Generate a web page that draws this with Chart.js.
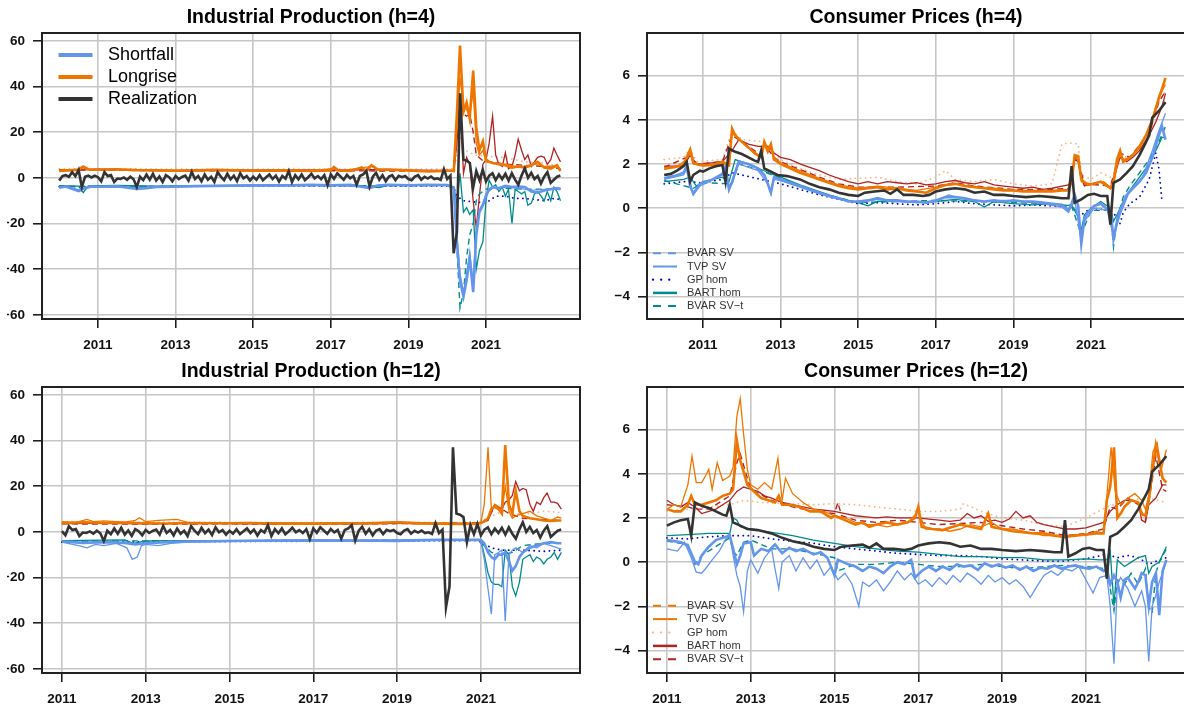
<!DOCTYPE html>
<html>
<head>
<meta charset="utf-8">
<script src="https://cdn.jsdelivr.net/npm/chart.js@4.4.1/dist/chart.umd.min.js"></script>
<style>
  html, body { margin: 0; padding: 0; background: #fff; width: 1184px; height: 708px; overflow: hidden; }
  #clip { position: absolute; left: 7px; top: 0; width: 1177px; height: 708px; overflow: hidden; }
  canvas { position: absolute; }
  #ip4 { left: -27px; top: 0; }
  #cpi4 { left: 578px; top: 0; }
  #ip12 { left: -27px; top: 354px; }
  #cpi12 { left: 578px; top: 354px; }
</style>
</head>
<body>
<div id="clip">
  <canvas id="ip4" width="662" height="354"></canvas>
  <canvas id="cpi4" width="662" height="354"></canvas>
  <canvas id="ip12" width="662" height="354"></canvas>
  <canvas id="cpi12" width="662" height="354"></canvas>
</div>
<script>
// ---- tick labels ----
const yearTicks = [2011, 2013, 2015, 2017, 2019, 2021];
const ipTicks = [-60, -40, -20, 0, 20, 40, 60];
const cpiTicks = [-4, -2, 0, 2, 4, 6];

// ---- realizations ----
// industrial production, monthly from Jan 2010
const ipMonthStart = 2010;
const ipRealization = [
  -1.2, 0.8, 1.2, 0.5, 2.5, 0.8, 3.5, -4.0, 0.5, 1.0, 0.2, 1.0,
  0.3, -1.5, 2.5, 0.8, 1.2, -1.8, -0.3, -0.5, 0.2, -0.8, 0.5, -0.6,
  -4.0, 0.5, -1.0, 1.5, -0.8, 1.8, -1.2, 0.6, -1.8, 1.2, 0.3, -1.5,
  0.8, -0.5, 0.4, 1.0, -1.2, 2.6, -0.5, 0.8, -1.5, 1.5, -0.8, 0.5,
  -1.8, 2.5, 0.5, -1.0, 1.8, -0.6, 1.0, -1.4, 2.0, -0.2, 0.8, -1.2,
  0.5, -0.8, 1.2, -1.0, 0.3, 1.5, -0.5, 1.0, -1.6, 0.8, -0.3, 3.0,
  -1.8, 1.2, -0.6, 1.5, -1.0, 0.3, 1.8, -0.2, 0.8, -0.5, 1.2, -3.2,
  1.5, -0.4, 2.0, 0.6, -0.8, 1.3, -0.2, 0.8, -3.0, 0.8, 1.5, 3.0,
  -3.8, 0.5, 2.2, -0.8, 1.2, -1.5, 0.6, 1.2, -1.0, 0.9, 0.3, 0.8,
  -0.5, -1.0, 0.6, 1.2, -0.8, 0.5, -0.3, 0.6, -0.5, -0.2, -0.9, 3.8,
  -0.5, 1.0, -33, -24, 37, 8, 7.5, 6.5, -4.5, 3.0, -1.0, 3.5,
  -1.5, 1.0, 2.0, -1.0, 1.5, -0.5, 1.8, -1.2, 2.0, -0.8, -3.0, 1.0,
  4.2, 0.0, 2.2, -0.5, 0.8, -2.5, 0.5, 2.5, -2.2, -0.8, 0.5, 1.0
];
// consumer prices, [date, value]
const cpiRealization = [[2010.0,1.5],[2010.17,1.55],[2010.33,1.7],[2010.5,1.9],[2010.58,2.1],[2010.67,1.2],[2010.75,1.5],[2010.92,1.7],[2011.0,1.65],[2011.17,1.8],[2011.33,1.9],[2011.5,1.95],[2011.58,1.2],[2011.67,2.7],[2011.83,2.55],[2012.0,2.45],[2012.17,2.3],[2012.33,2.15],[2012.42,2.1],[2012.5,2.6],[2012.58,1.8],[2012.75,1.65],[2012.92,1.5],[2013.17,1.45],[2013.5,1.3],[2013.75,1.1],[2014.0,0.95],[2014.25,0.85],[2014.5,0.7],[2014.75,0.6],[2015.0,0.55],[2015.17,0.7],[2015.42,0.75],[2015.67,0.8],[2015.83,0.65],[2016.0,0.85],[2016.17,0.6],[2016.42,0.6],[2016.67,0.55],[2016.83,0.6],[2017.0,0.75],[2017.25,0.85],[2017.5,0.9],[2017.75,0.85],[2018.0,0.7],[2018.25,0.75],[2018.5,0.6],[2018.75,0.6],[2019.0,0.55],[2019.33,0.5],[2019.67,0.55],[2020.0,0.5],[2020.25,0.45],[2020.42,0.45],[2020.5,1.9],[2020.58,0.25],[2020.75,0.4],[2020.92,0.6],[2021.08,0.65],[2021.25,0.55],[2021.42,0.55],[2021.5,-0.75],[2021.58,1.15],[2021.75,1.3],[2021.92,1.6],[2022.08,1.9],[2022.25,2.4],[2022.42,3.0],[2022.5,3.3],[2022.58,4.1],[2022.75,4.4],[2022.92,4.8]];

// ---- Industrial Production (h=4) ----
const ip4TvpLong = [[2010.0,3.0],[2010.25,3.3],[2010.5,3.6],[2010.62,5.0],[2010.75,3.8],[2011.0,3.6],[2011.5,3.8],[2012.0,3.4],[2012.5,3.3],[2013.0,3.1],[2013.5,3.2],[2014.0,3.5],[2014.5,3.3],[2015.0,3.1],[2015.5,3.2],[2016.0,3.3],[2016.5,3.0],[2017.0,3.3],[2017.08,4.8],[2017.2,3.2],[2017.5,3.0],[2017.8,4.6],[2017.9,3.0],[2018.05,5.6],[2018.2,3.8],[2018.5,3.6],[2019.0,3.3],[2019.5,2.8],[2019.9,3.0],[2020.08,3.2],[2020.17,3.0],[2020.25,28],[2020.33,58],[2020.42,29],[2020.5,33],[2020.58,26],[2020.67,47],[2020.75,22],[2020.83,12],[2020.92,16],[2021.0,8],[2021.08,7],[2021.17,6.5],[2021.33,6],[2021.5,5.5],[2021.67,4.5],[2021.83,5],[2022.0,4.5],[2022.17,5.5],[2022.33,7],[2022.5,4.5],[2022.67,4],[2022.83,5.5],[2022.92,3]];
const ip4BvarLong = [[2010.0,3.4],[2010.5,3.7],[2010.62,4.4],[2010.75,3.6],[2011.5,3.5],[2012.5,3.2],[2013.5,3.3],[2014.5,3.4],[2015.5,3.0],[2016.5,3.2],[2017.08,4.2],[2017.25,3.1],[2018.05,5.0],[2018.25,3.5],[2019.0,3.2],[2020.0,3.0],[2020.17,3.1],[2020.25,22],[2020.33,44],[2020.42,31],[2020.5,30],[2020.58,27],[2020.67,38],[2020.75,15],[2020.83,10],[2020.92,12],[2021.0,7],[2021.25,6.5],[2021.5,6],[2021.75,5],[2022.0,5],[2022.25,6],[2022.5,5],[2022.75,5.2],[2022.92,4]];
const ip4GpLong = [[2010.0,4.0],[2012,3.9],[2014,3.8],[2016,3.8],[2018,3.9],[2020.0,3.8],[2020.17,4],[2020.25,10],[2020.33,18],[2020.42,13],[2020.58,11],[2020.75,10],[2021.0,9.5],[2021.5,9],[2022.0,7],[2022.5,6.5],[2022.92,5]];
const ip4BartLong = [[2010.0,3.6],[2010.5,3.4],[2011.0,3.8],[2012.0,3.5],[2013.0,3.3],[2014.0,3.6],[2015.0,3.4],[2016.0,3.5],[2017.0,3.4],[2018.0,3.6],[2019.0,3.4],[2020.0,3.3],[2020.17,3],[2020.25,15],[2020.33,35],[2020.42,2],[2020.5,9],[2020.58,6],[2020.67,-10],[2020.75,-22],[2020.83,-8],[2020.92,6],[2021.0,8],[2021.08,15],[2021.17,27],[2021.25,10],[2021.33,6],[2021.42,5],[2021.5,11],[2021.58,4],[2021.67,5],[2021.75,10],[2021.83,17],[2021.92,12],[2022.0,8],[2022.08,10],[2022.17,5],[2022.25,7],[2022.33,9],[2022.42,9.5],[2022.5,9],[2022.58,6],[2022.67,8],[2022.75,13],[2022.83,10],[2022.92,7]];
const ip4SvtLong = [[2010.0,3.6],[2011,3.4],[2013,3.1],[2015,3.2],[2017,3.1],[2019,3.0],[2020.17,3.2],[2020.25,20],[2020.33,36],[2020.42,28],[2020.5,27],[2020.58,28],[2020.67,20],[2020.75,10],[2020.92,7.5],[2021.5,6],[2022.0,5.5],[2022.5,5],[2022.92,4]];
const ip4TvpShort = [[2010.0,-4.3],[2010.17,-3.8],[2010.33,-4.8],[2010.5,-5.8],[2010.67,-4.5],[2010.83,-3.8],[2011.0,-3.9],[2011.5,-3.7],[2012.0,-4.8],[2012.25,-4.5],[2012.5,-4.0],[2013.0,-3.9],[2013.5,-3.6],[2014.0,-3.5],[2014.5,-3.4],[2015.0,-3.3],[2015.5,-3.2],[2016.0,-3.3],[2016.5,-3.0],[2017.0,-3.2],[2017.5,-3.0],[2018.0,-4.5],[2018.2,-3.3],[2018.5,-3.0],[2019.0,-3.2],[2019.5,-3.0],[2020.0,-3.1],[2020.17,-4.5],[2020.25,-28],[2020.33,-45],[2020.42,-52],[2020.5,-45],[2020.58,-35],[2020.67,-50],[2020.75,-25],[2020.83,-15],[2020.92,-12],[2021.0,-8],[2021.08,-5],[2021.17,-4],[2021.33,-4.5],[2021.5,-3.5],[2021.67,-4],[2021.83,-3.8],[2022.0,-4],[2022.17,-6],[2022.33,-6.5],[2022.5,-5.5],[2022.67,-5],[2022.83,-4.5],[2022.92,-5]];
const ip4BvarShort = [[2010.0,-4.0],[2010.33,-4.3],[2010.5,-5.2],[2010.67,-4.2],[2011.0,-3.8],[2012.0,-4.3],[2013.0,-3.8],[2014.0,-3.5],[2015.0,-3.4],[2016.0,-3.4],[2017.0,-3.3],[2018.0,-4.0],[2018.25,-3.4],[2019.0,-3.3],[2020.0,-3.2],[2020.17,-4],[2020.25,-25],[2020.33,-42],[2020.42,-50],[2020.5,-42],[2020.58,-33],[2020.67,-46],[2020.75,-22],[2020.83,-14],[2020.92,-11],[2021.0,-7],[2021.17,-4.5],[2021.5,-4],[2021.83,-4.5],[2022.17,-5.5],[2022.5,-5],[2022.75,-4.5],[2022.92,-4.5]];
const ip4GpShort = [[2010.0,-3.8],[2012,-3.9],[2014,-3.6],[2016,-3.5],[2018,-3.6],[2020.0,-3.5],[2020.17,-4],[2020.25,-8],[2020.42,-10],[2020.67,-10.5],[2021.0,-11],[2021.25,-8],[2021.5,-8],[2021.75,-9],[2022.0,-9],[2022.25,-9.5],[2022.5,-10],[2022.75,-9],[2022.92,-9.5]];
const ip4BartShort = [[2010.0,-3.4],[2010.5,-3.6],[2010.62,-6.5],[2010.75,-3.5],[2011.5,-3.3],[2012.5,-3.6],[2013.5,-3.5],[2014.5,-3.3],[2015.5,-3.2],[2016.5,-3.1],[2017.5,-3.0],[2018.25,-4.2],[2018.5,-3.2],[2019.5,-3.0],[2020.0,-3.0],[2020.17,-4],[2020.25,-11],[2020.33,2],[2020.42,-15],[2020.5,-13],[2020.58,-16],[2020.67,-14],[2020.75,-40],[2020.83,-32],[2020.92,-28],[2021.0,-10],[2021.08,-1],[2021.17,-4],[2021.25,-3],[2021.33,-6],[2021.42,-4],[2021.5,-8],[2021.58,-5],[2021.67,-20],[2021.75,-5],[2021.83,-6],[2021.92,-7],[2022.0,-6],[2022.08,-12],[2022.17,-11],[2022.25,-7],[2022.33,-6],[2022.42,-8],[2022.5,-10],[2022.58,-6],[2022.67,-10],[2022.75,-4],[2022.83,-6],[2022.92,-10]];
const ip4SvtShort = [[2010.0,-3.7],[2012,-3.8],[2014,-3.5],[2016,-3.4],[2018,-3.5],[2020.0,-3.4],[2020.17,-4],[2020.25,-30],[2020.33,-57],[2020.42,-50],[2020.5,-35],[2020.58,-25],[2020.67,-20],[2020.75,-10],[2020.83,-7],[2021.0,-5],[2021.5,-4.5],[2022.0,-5],[2022.92,-5]];

// ---- Industrial Production (h=12) ----
const ip12TvpLong = [[2011.0,3.8],[2011.5,4.2],[2012.0,3.9],[2012.5,4.0],[2013.0,3.8],[2013.5,3.7],[2014.0,3.9],[2014.5,3.8],[2015.0,3.8],[2015.5,3.9],[2016.0,3.7],[2016.5,3.6],[2017.0,3.6],[2017.5,3.8],[2018.0,3.7],[2018.5,3.8],[2019.0,4.2],[2019.5,3.7],[2020.0,3.6],[2020.5,3.5],[2020.92,3.5],[2021.0,4],[2021.08,4.5],[2021.17,6],[2021.25,10],[2021.33,11],[2021.42,10],[2021.5,8],[2021.58,38],[2021.67,12],[2021.75,8],[2021.83,18],[2021.92,9],[2022.0,7],[2022.17,6],[2022.33,5.5],[2022.5,5],[2022.67,4.8],[2022.83,5],[2022.92,5]];
const ip12BvarLong = [[2011.0,4.5],[2011.33,4.2],[2011.6,5.5],[2011.75,4.5],[2012.0,4.8],[2012.5,4.3],[2012.75,5.0],[2012.85,6.2],[2013.0,4.5],[2013.3,5.0],[2013.75,5.5],[2014.0,4.2],[2015,4.0],[2016,4.0],[2017,3.8],[2018,3.9],[2019,4.4],[2020,3.8],[2020.92,3.6],[2021.0,4],[2021.08,12],[2021.17,37],[2021.25,10],[2021.33,12],[2021.42,11],[2021.5,8],[2021.58,20],[2021.67,9],[2021.75,6],[2021.83,7],[2022.0,8],[2022.17,9],[2022.33,7],[2022.5,6],[2022.67,5],[2022.83,6.5],[2022.92,6]];
const ip12GpLong = [[2011,4.5],[2013,4.3],[2015,4.2],[2017,4.0],[2019,4.2],[2020.92,4.0],[2021.17,6],[2021.5,9],[2021.83,8],[2022.17,8],[2022.5,9],[2022.92,8.5]];
const ip12BartLong = [[2011,3.6],[2012,3.8],[2013,3.5],[2014,3.7],[2015,3.6],[2016,3.5],[2017,3.6],[2018,3.5],[2019,3.7],[2020,3.5],[2020.92,3.6],[2021.0,4],[2021.17,5],[2021.33,12],[2021.42,11],[2021.5,10],[2021.58,13],[2021.67,14],[2021.75,16],[2021.83,22],[2021.92,18],[2022.0,19],[2022.08,18.5],[2022.17,12],[2022.25,9],[2022.33,13],[2022.42,12],[2022.5,15],[2022.58,17],[2022.67,13],[2022.75,13],[2022.83,12.5],[2022.92,10]];
const ip12SvtLong = [[2011,3.5],[2013,3.4],[2015,3.5],[2017,3.4],[2019,3.6],[2021.0,4],[2021.17,6],[2021.33,11],[2021.5,10],[2021.67,8],[2021.83,7],[2022,6],[2022.5,5.5],[2022.92,5]];
const ip12TvpShort = [[2011.0,-4.2],[2011.25,-4.5],[2011.5,-4.8],[2012.0,-4.5],[2012.5,-4.8],[2012.75,-5.5],[2013.0,-5],[2013.5,-4.5],[2014,-4.2],[2015,-4.0],[2016,-3.8],[2017,-3.7],[2018,-3.8],[2019,-3.8],[2020,-3.5],[2020.92,-3.5],[2021.0,-3.6],[2021.08,-5],[2021.17,-9],[2021.25,-11],[2021.33,-12],[2021.42,-10],[2021.5,-10],[2021.58,-9],[2021.67,-13],[2021.75,-17],[2021.83,-15],[2021.92,-11],[2022.0,-9],[2022.17,-7],[2022.33,-6],[2022.5,-5],[2022.67,-4.5],[2022.83,-5],[2022.92,-5]];
const ip12BvarShort = [[2011.0,-4.5],[2011.4,-6],[2011.6,-7],[2011.8,-5.5],[2012.0,-6],[2012.3,-5],[2012.55,-7],[2012.68,-12],[2012.8,-11],[2012.9,-6],[2013.0,-5.5],[2013.3,-6],[2013.6,-5],[2014,-4.5],[2015,-4.2],[2016,-4.0],[2017,-4.1],[2018,-4.0],[2019,-4.3],[2020,-3.6],[2020.92,-3.6],[2021.0,-4],[2021.08,-12],[2021.17,-25],[2021.25,-36],[2021.33,-10],[2021.42,-9],[2021.5,-8],[2021.58,-39],[2021.67,-10],[2021.75,-8],[2021.83,-7],[2022,-9],[2022.17,-6],[2022.33,-7],[2022.5,-5],[2022.67,-6],[2022.83,-7],[2022.92,-7.5]];
const ip12GpShort = [[2011,-4.5],[2015,-4.2],[2020.92,-3.8],[2021.25,-7],[2021.5,-8],[2021.75,-8],[2022.0,-8],[2022.5,-8.5],[2022.92,-8]];
const ip12BartShort = [[2011,-3.8],[2012.5,-3.5],[2012.7,-5],[2013,-4],[2014,-3.8],[2019,-3.7],[2020.92,-3.6],[2021.0,-4],[2021.08,-10],[2021.17,-18],[2021.25,-22],[2021.33,-23],[2021.42,-23],[2021.5,-24],[2021.58,-8],[2021.67,-10],[2021.75,-24],[2021.83,-28],[2021.92,-22],[2022.0,-12],[2022.08,-11],[2022.17,-10],[2022.25,-13],[2022.33,-11],[2022.42,-12],[2022.5,-14],[2022.58,-12],[2022.67,-11],[2022.75,-9],[2022.83,-12],[2022.92,-9]];
const ip12SvtShort = [[2011,-4],[2020.92,-3.6],[2021.08,-6],[2021.25,-9],[2021.5,-10],[2021.75,-9],[2022,-6],[2022.5,-5],[2022.92,-5]];

// ---- Consumer Prices (h=4) ----
const cpi4TvpLong = [[2010.0,1.8],[2010.25,1.85],[2010.5,1.95],[2010.58,2.3],[2010.67,2.65],[2010.75,2.05],[2010.92,1.95],[2011.25,1.95],[2011.5,2.1],[2011.67,1.95],[2011.75,3.6],[2011.83,3.3],[2012.0,3.0],[2012.17,2.75],[2012.33,2.5],[2012.5,2.3],[2012.58,3.0],[2012.67,2.6],[2012.75,2.9],[2012.83,2.2],[2013.0,2.0],[2013.25,1.8],[2013.5,1.6],[2013.75,1.45],[2014.0,1.3],[2014.25,1.15],[2014.5,1.0],[2014.75,0.9],[2015.0,0.85],[2015.25,0.9],[2015.5,0.95],[2015.75,0.85],[2016.0,0.9],[2016.25,0.8],[2016.5,0.75],[2016.75,0.7],[2017.0,0.9],[2017.25,1.05],[2017.5,1.1],[2017.75,1.0],[2018.0,0.95],[2018.25,0.9],[2018.5,0.85],[2018.75,0.8],[2019.0,0.8],[2019.25,0.75],[2019.5,0.75],[2019.75,0.75],[2020.0,0.75],[2020.25,0.8],[2020.42,0.8],[2020.5,1.2],[2020.58,2.4],[2020.67,2.35],[2020.75,1.3],[2020.92,1.05],[2021.08,1.1],[2021.25,1.2],[2021.42,1.0],[2021.5,0.9],[2021.58,1.2],[2021.67,2.2],[2021.75,2.6],[2021.83,2.1],[2021.92,2.2],[2022.08,2.4],[2022.25,2.8],[2022.42,3.3],[2022.58,4.0],[2022.67,4.5],[2022.75,5.0],[2022.83,5.4],[2022.92,5.9]];
const cpi4BvarLong = [[2010.0,1.75],[2010.33,1.9],[2010.58,2.2],[2010.67,2.5],[2010.75,2.0],[2011.0,1.9],[2011.33,1.95],[2011.58,2.0],[2011.67,1.9],[2011.75,3.4],[2011.92,3.1],[2012.08,2.9],[2012.33,2.45],[2012.5,2.3],[2012.58,2.9],[2012.67,2.5],[2012.75,2.8],[2012.83,2.3],[2013.0,2.05],[2013.5,1.7],[2014.0,1.35],[2014.5,1.05],[2015.0,0.9],[2015.5,1.0],[2016.0,0.9],[2016.5,0.8],[2017.0,0.95],[2017.5,1.1],[2018.0,0.95],[2018.5,0.9],[2019.0,0.8],[2019.5,0.8],[2020.0,0.8],[2020.42,0.85],[2020.5,1.3],[2020.58,2.4],[2020.67,2.2],[2020.75,1.2],[2021.0,1.1],[2021.33,1.2],[2021.5,0.95],[2021.58,1.0],[2021.67,1.9],[2021.75,2.5],[2021.83,2.2],[2022.0,2.3],[2022.25,2.7],[2022.5,3.5],[2022.67,4.6],[2022.83,5.3],[2022.92,5.6]];
const cpi4GpLong = [[2010.0,2.2],[2010.5,2.3],[2010.67,2.7],[2010.83,2.1],[2011.5,2.2],[2011.75,3.5],[2012.0,3.1],[2012.58,3.0],[2013.0,2.2],[2013.5,1.8],[2014.0,1.5],[2014.5,1.3],[2015.0,1.35],[2015.5,1.4],[2016.0,1.2],[2016.5,1.1],[2017.0,1.4],[2017.25,1.7],[2017.5,1.3],[2018.0,1.2],[2018.5,1.3],[2019.0,1.1],[2019.5,1.0],[2020.0,1.1],[2020.25,2.9],[2020.5,2.95],[2020.67,2.9],[2020.75,1.5],[2021.0,1.3],[2021.25,1.6],[2021.5,1.4],[2021.58,1.1],[2021.75,2.5],[2022.0,2.2],[2022.5,3.2],[2022.75,4.8],[2022.92,5.3]];
const cpi4BartLong = [[2010.0,1.9],[2010.5,1.9],[2010.67,2.4],[2010.83,2.0],[2011.0,2.0],[2011.5,2.1],[2011.75,2.6],[2011.92,3.1],[2012.17,2.9],[2012.42,2.8],[2012.67,2.8],[2012.83,2.5],[2013.0,2.3],[2013.25,2.2],[2013.5,2.0],[2013.75,1.85],[2014.0,1.7],[2014.25,1.5],[2014.5,1.35],[2014.75,1.2],[2015.0,1.1],[2015.25,1.2],[2015.5,1.1],[2015.75,1.2],[2016.0,1.15],[2016.25,1.1],[2016.5,1.15],[2016.75,1.05],[2017.0,1.1],[2017.25,1.2],[2017.5,1.25],[2017.75,1.15],[2018.0,1.1],[2018.25,1.2],[2018.5,1.05],[2018.75,1.0],[2019.0,0.95],[2019.25,0.9],[2019.5,0.95],[2019.75,0.85],[2020.0,0.9],[2020.25,1.0],[2020.42,1.05],[2020.5,1.3],[2020.58,2.2],[2020.67,2.1],[2020.75,1.4],[2020.83,1.0],[2021.0,1.1],[2021.25,1.2],[2021.5,0.9],[2021.58,1.3],[2021.75,2.3],[2021.92,2.1],[2022.08,2.3],[2022.25,2.6],[2022.5,3.3],[2022.67,3.9],[2022.83,4.6],[2022.92,5.2]];
const cpi4SvtLong = [[2010.0,1.85],[2010.58,2.3],[2010.67,2.5],[2010.83,2.0],[2011.5,2.1],[2011.75,3.3],[2012.0,3.0],[2012.5,2.4],[2012.58,2.9],[2012.83,2.3],[2013.0,2.1],[2013.5,1.75],[2014.0,1.4],[2014.5,1.1],[2015.0,0.95],[2016.0,0.95],[2017.0,1.0],[2017.5,1.15],[2018.0,1.0],[2019.0,0.85],[2020.0,0.85],[2020.42,0.9],[2020.5,1.3],[2020.58,2.3],[2020.67,2.1],[2020.83,1.1],[2021.5,1.0],[2021.67,2.0],[2021.75,2.5],[2022.0,2.3],[2022.5,3.4],[2022.75,4.8],[2022.92,5.3]];
const cpi4TvpShort = [[2010.0,1.35],[2010.25,1.45],[2010.5,1.6],[2010.58,1.9],[2010.67,1.0],[2010.75,0.65],[2010.92,1.1],[2011.25,1.3],[2011.5,1.55],[2011.58,1.9],[2011.67,0.85],[2011.75,1.2],[2011.92,2.1],[2012.17,2.0],[2012.42,1.8],[2012.58,1.5],[2012.67,1.1],[2012.75,0.7],[2012.83,1.4],[2013.0,1.3],[2013.25,1.15],[2013.5,1.0],[2013.75,0.85],[2014.0,0.7],[2014.25,0.55],[2014.5,0.45],[2014.75,0.3],[2015.0,0.3],[2015.25,0.35],[2015.5,0.45],[2015.75,0.35],[2016.0,0.35],[2016.25,0.3],[2016.5,0.3],[2016.75,0.25],[2017.0,0.35],[2017.25,0.5],[2017.5,0.5],[2017.75,0.45],[2018.0,0.35],[2018.25,0.3],[2018.5,0.35],[2018.75,0.3],[2019.0,0.35],[2019.25,0.3],[2019.5,0.3],[2019.75,0.25],[2020.0,0.2],[2020.25,0.15],[2020.42,-0.1],[2020.5,0.2],[2020.58,0.6],[2020.67,0.1],[2020.75,-1.6],[2020.83,-0.5],[2020.92,-0.2],[2021.08,0.1],[2021.25,0.2],[2021.42,-0.05],[2021.5,0.0],[2021.58,-1.4],[2021.67,-0.6],[2021.75,-0.1],[2021.92,0.6],[2022.08,0.9],[2022.25,1.2],[2022.42,1.6],[2022.58,2.3],[2022.75,3.3],[2022.83,3.7],[2022.92,3.1]];
const cpi4BvarShort = [[2010.0,1.3],[2010.5,1.5],[2010.58,1.8],[2010.75,0.6],[2010.92,1.0],[2011.5,1.5],[2011.58,1.8],[2011.67,0.8],[2011.92,2.0],[2012.42,1.7],[2012.67,1.1],[2012.75,0.65],[2012.83,1.3],[2013.0,1.25],[2013.5,0.95],[2014.0,0.65],[2014.5,0.4],[2015.0,0.25],[2015.5,0.4],[2016.0,0.3],[2016.5,0.25],[2017.0,0.3],[2017.33,0.6],[2017.75,0.4],[2018.25,0.3],[2018.75,0.35],[2019.25,0.3],[2019.75,0.2],[2020.25,0.05],[2020.42,-0.2],[2020.58,0.4],[2020.75,-1.5],[2020.83,-0.6],[2021.08,0.0],[2021.42,-0.1],[2021.58,-1.3],[2021.75,-0.3],[2022.0,0.8],[2022.33,1.4],[2022.58,2.6],[2022.75,3.5],[2022.92,4.3]];
const cpi4GpShort = [[2010.0,1.1],[2010.5,1.2],[2011.0,1.15],[2011.5,1.3],[2011.75,1.6],[2012.0,1.5],[2012.5,1.3],[2013.0,1.1],[2013.5,0.85],[2014.0,0.6],[2014.5,0.4],[2015.0,0.2],[2015.5,0.25],[2016.0,0.2],[2016.5,0.15],[2017.0,0.2],[2017.5,0.3],[2018.0,0.2],[2018.5,0.15],[2019.0,0.1],[2019.5,0.15],[2020.0,0.1],[2020.5,0.05],[2020.75,-0.3],[2021.0,0.0],[2021.5,-0.1],[2021.67,-0.4],[2021.75,-0.7],[2021.83,-0.2],[2022.0,0.2],[2022.25,0.5],[2022.5,1.3],[2022.67,2.5],[2022.75,1.8],[2022.83,0.3]];
const cpi4BartShort = [[2010.0,1.2],[2010.5,1.3],[2010.67,1.4],[2010.83,1.0],[2011.0,1.2],[2011.5,1.4],[2011.67,1.2],[2011.83,2.2],[2012.17,2.0],[2012.5,1.75],[2012.83,1.5],[2013.0,1.4],[2013.5,1.05],[2014.0,0.75],[2014.5,0.45],[2015.0,0.25],[2015.25,0.1],[2015.5,0.3],[2016.0,0.35],[2016.5,0.25],[2017.0,0.3],[2017.5,0.4],[2018.0,0.3],[2018.25,0.05],[2018.5,0.3],[2019.0,0.2],[2019.5,0.15],[2020.0,0.2],[2020.33,0.1],[2020.5,0.15],[2020.67,-0.4],[2020.75,-1.0],[2020.83,-0.3],[2021.0,0.0],[2021.25,0.3],[2021.5,0.0],[2021.58,-0.6],[2021.67,-0.3],[2021.83,0.3],[2022.0,0.8],[2022.25,1.4],[2022.5,2.0],[2022.67,2.6],[2022.83,3.2],[2022.92,3.2]];
const cpi4SvtShort = [[2010.0,1.25],[2010.75,0.9],[2011.0,1.15],[2011.75,1.1],[2011.92,2.0],[2012.5,1.7],[2013.0,1.35],[2014.0,0.7],[2015.0,0.25],[2016.0,0.3],[2017.0,0.35],[2018.0,0.3],[2019.0,0.25],[2020.0,0.2],[2020.5,0.1],[2020.75,-1.2],[2021.0,-0.1],[2021.5,-0.1],[2021.58,-1.75],[2021.67,-0.5],[2021.83,0.5],[2022.0,1.0],[2022.5,2.2],[2022.75,3.0],[2022.92,3.7]];

// ---- Consumer Prices (h=12) ----
const cpi12TvpLong = [[2011.0,2.4],[2011.17,2.3],[2011.33,2.3],[2011.5,2.6],[2011.58,3.0],[2011.67,2.6],[2011.83,2.6],[2012.0,2.7],[2012.17,2.8],[2012.33,3.0],[2012.5,3.1],[2012.58,3.3],[2012.67,5.5],[2012.75,4.6],[2012.83,4.1],[2012.92,3.5],[2013.08,3.2],[2013.25,2.9],[2013.42,2.8],[2013.58,2.7],[2013.67,3.0],[2013.75,2.6],[2013.92,2.6],[2014.17,2.5],[2014.42,2.3],[2014.67,2.3],[2014.92,2.0],[2015.0,2.1],[2015.25,1.9],[2015.5,1.7],[2015.67,1.8],[2015.83,1.6],[2016.0,1.7],[2016.25,1.8],[2016.5,1.7],[2016.75,1.8],[2016.92,2.0],[2017.0,2.5],[2017.08,1.6],[2017.33,1.5],[2017.58,1.45],[2017.83,1.6],[2018.0,1.7],[2018.25,1.6],[2018.5,1.5],[2018.67,2.2],[2018.75,1.6],[2019.0,1.5],[2019.25,1.4],[2019.5,1.35],[2019.75,1.3],[2020.0,1.3],[2020.25,1.2],[2020.5,1.15],[2020.75,1.2],[2021.0,1.25],[2021.25,1.3],[2021.42,1.3],[2021.5,2.8],[2021.58,3.4],[2021.67,5.2],[2021.75,2.0],[2021.83,2.2],[2021.92,2.5],[2022.08,2.8],[2022.25,2.7],[2022.33,2.2],[2022.42,2.1],[2022.5,2.8],[2022.58,4.0],[2022.67,5.3],[2022.75,4.6],[2022.83,3.8],[2022.92,3.6]];
const cpi12BvarLong = [[2011.0,2.4],[2011.17,2.6],[2011.33,2.5],[2011.5,3.5],[2011.6,4.8],[2011.7,3.6],[2011.83,3.6],[2011.92,3.9],[2012.0,4.2],[2012.08,3.3],[2012.2,4.5],[2012.33,3.7],[2012.42,3.8],[2012.5,3.9],[2012.58,4.3],[2012.67,6.6],[2012.75,7.4],[2012.83,5.8],[2012.92,4.2],[2013.0,3.5],[2013.17,3.3],[2013.33,3.6],[2013.5,3.3],[2013.65,4.7],[2013.75,2.8],[2013.83,3.8],[2014.0,3.1],[2014.25,2.7],[2014.5,2.4],[2014.75,2.3],[2015.0,2.1],[2015.25,2.0],[2015.5,1.8],[2015.75,1.7],[2016.0,1.7],[2016.25,1.6],[2016.5,1.7],[2016.75,1.8],[2017.0,2.3],[2017.17,1.5],[2017.5,1.5],[2017.75,1.4],[2018.0,1.5],[2018.25,1.7],[2018.5,1.6],[2018.75,1.8],[2019.0,1.5],[2019.25,1.5],[2019.5,1.4],[2019.75,1.3],[2020.0,1.2],[2020.25,1.2],[2020.5,1.1],[2020.75,1.25],[2021.0,1.2],[2021.25,1.4],[2021.42,1.3],[2021.5,3.0],[2021.6,5.2],[2021.7,3.2],[2021.83,2.6],[2022.0,2.9],[2022.17,3.1],[2022.33,2.8],[2022.42,2.4],[2022.5,3.0],[2022.6,5.0],[2022.7,5.4],[2022.8,4.2],[2022.92,5.1]];
const cpi12GpLong = [[2011.0,2.3],[2011.5,2.4],[2012.0,2.5],[2012.5,2.6],[2012.83,2.8],[2013.25,2.7],[2014.0,2.65],[2014.5,2.6],[2015.0,2.65],[2015.5,2.6],[2016.0,2.5],[2016.5,2.4],[2017.0,2.3],[2017.5,2.3],[2018.0,2.4],[2018.08,2.65],[2018.5,2.3],[2019.0,2.0],[2019.5,1.9],[2020.0,1.7],[2020.5,1.6],[2021.0,2.0],[2021.5,2.5],[2022.0,2.8],[2022.5,2.9],[2022.92,2.7]];
const cpi12BartLong = [[2011.0,2.8],[2011.17,2.6],[2011.33,2.5],[2011.5,2.7],[2011.67,2.5],[2011.83,2.2],[2012.0,2.3],[2012.17,2.4],[2012.33,2.6],[2012.5,2.8],[2012.67,3.2],[2012.83,3.4],[2013.0,3.3],[2013.17,3.2],[2013.33,3.0],[2013.5,2.9],[2013.75,2.7],[2014.0,2.6],[2014.25,2.5],[2014.5,2.4],[2014.75,2.35],[2015.0,2.3],[2015.25,2.2],[2015.5,2.1],[2015.75,2.05],[2016.0,2.0],[2016.25,2.05],[2016.5,2.0],[2016.75,2.0],[2017.0,2.0],[2017.25,1.95],[2017.5,1.9],[2017.75,1.85],[2018.0,1.9],[2018.17,2.2],[2018.33,2.0],[2018.5,2.1],[2018.67,1.85],[2018.83,1.9],[2019.0,1.8],[2019.17,1.95],[2019.33,2.3],[2019.5,2.0],[2019.67,2.1],[2019.83,1.8],[2020.0,1.7],[2020.25,1.6],[2020.5,1.5],[2020.75,1.5],[2021.0,1.55],[2021.25,1.7],[2021.42,1.8],[2021.58,2.3],[2021.75,2.6],[2021.92,2.8],[2022.08,2.8],[2022.25,2.7],[2022.33,1.9],[2022.42,1.8],[2022.5,2.6],[2022.67,2.9],[2022.83,3.5],[2022.92,3.5]];
const cpi12SvtLong = [[2011.0,2.6],[2011.5,2.5],[2011.67,2.4],[2012.0,2.4],[2012.5,3.0],[2012.67,4.5],[2012.75,4.9],[2012.92,3.8],[2013.0,3.3],[2013.5,2.8],[2014.0,2.5],[2014.5,2.3],[2015.0,2.2],[2015.08,2.7],[2015.17,2.1],[2015.5,1.9],[2016.0,1.8],[2016.5,1.9],[2017.0,1.8],[2017.5,1.7],[2018.0,1.75],[2018.5,1.8],[2019.0,1.65],[2019.5,1.5],[2020.0,1.4],[2020.5,1.2],[2021.0,1.3],[2021.42,1.5],[2021.58,2.5],[2021.75,2.4],[2022.0,2.9],[2022.25,2.6],[2022.42,1.9],[2022.5,2.7],[2022.67,4.8],[2022.83,3.3],[2022.92,3.2]];
const cpi12TvpShort = [[2011.0,1.0],[2011.17,0.95],[2011.33,0.9],[2011.5,0.75],[2011.58,0.4],[2011.67,0.0],[2011.75,-0.1],[2011.83,0.3],[2012.0,0.7],[2012.17,1.0],[2012.33,1.1],[2012.5,1.2],[2012.58,0.6],[2012.67,-0.1],[2012.75,0.3],[2012.83,0.85],[2013.0,0.9],[2013.08,0.3],[2013.25,0.6],[2013.42,0.5],[2013.58,0.8],[2013.75,0.4],[2013.92,0.65],[2014.08,0.5],[2014.25,0.6],[2014.5,0.35],[2014.67,0.45],[2014.83,0.2],[2015.0,-0.6],[2015.08,0.1],[2015.33,-0.1],[2015.5,-0.2],[2015.67,-0.4],[2015.83,-0.2],[2016.0,-0.3],[2016.17,-0.5],[2016.33,-0.2],[2016.5,0.0],[2016.67,-0.1],[2016.83,0.1],[2016.92,-0.7],[2017.08,-0.4],[2017.25,-0.2],[2017.42,-0.4],[2017.58,-0.2],[2017.75,-0.35],[2017.92,-0.1],[2018.08,-0.2],[2018.25,-0.15],[2018.42,-0.35],[2018.58,-0.05],[2018.75,-0.2],[2018.92,-0.1],[2019.08,-0.25],[2019.25,-0.15],[2019.42,-0.35],[2019.58,-0.2],[2019.75,-0.4],[2019.92,-0.25],[2020.08,-0.3],[2020.25,-0.15],[2020.42,-0.3],[2020.58,-0.2],[2020.75,-0.15],[2020.92,-0.25],[2021.08,-0.3],[2021.25,-0.2],[2021.42,-0.4],[2021.5,-0.3],[2021.58,-1.0],[2021.67,-0.6],[2021.75,-0.9],[2021.83,-1.6],[2021.92,-0.8],[2022.0,-0.7],[2022.17,-1.2],[2022.25,-0.9],[2022.33,-0.5],[2022.42,-0.6],[2022.5,-2.0],[2022.58,-0.9],[2022.67,-0.5],[2022.75,-2.4],[2022.83,-0.4],[2022.92,0.1]];
const cpi12BvarShort = [[2011.0,0.6],[2011.25,0.5],[2011.42,0.9],[2011.58,0.2],[2011.7,-0.45],[2011.83,-0.5],[2011.92,-0.3],[2012.08,0.1],[2012.25,0.5],[2012.42,1.1],[2012.5,1.3],[2012.58,0.3],[2012.67,-0.6],[2012.75,-1.1],[2012.83,-2.25],[2012.92,-0.4],[2013.0,0.1],[2013.17,-0.5],[2013.33,0.2],[2013.5,0.6],[2013.58,-0.3],[2013.67,-1.2],[2013.75,0.0],[2013.92,0.3],[2014.08,-0.4],[2014.25,0.2],[2014.42,-0.3],[2014.58,0.1],[2014.75,-0.6],[2014.92,-0.2],[2015.08,-0.8],[2015.25,-0.5],[2015.42,-1.0],[2015.58,-2.0],[2015.67,-0.9],[2015.83,-1.1],[2016.0,-0.8],[2016.17,-1.3],[2016.33,-0.9],[2016.5,-0.4],[2016.67,-0.8],[2016.83,-0.5],[2017.0,-1.0],[2017.17,-0.8],[2017.33,-1.1],[2017.5,-0.7],[2017.67,-1.0],[2017.83,-0.6],[2018.0,-0.9],[2018.17,-0.5],[2018.33,-0.7],[2018.5,-1.0],[2018.67,-0.6],[2018.83,-0.9],[2019.0,-0.7],[2019.17,-1.0],[2019.33,-0.8],[2019.5,-1.1],[2019.67,-1.6],[2019.83,-1.1],[2020.0,-0.6],[2020.17,-0.4],[2020.33,-0.6],[2020.5,-0.3],[2020.67,-0.4],[2020.83,-0.2],[2021.0,-0.8],[2021.17,-1.4],[2021.33,-0.7],[2021.5,-0.6],[2021.58,-2.0],[2021.67,-4.6],[2021.75,-1.0],[2021.83,-0.7],[2022.0,-1.2],[2022.17,-2.0],[2022.33,-1.3],[2022.42,-2.0],[2022.5,-4.5],[2022.58,-2.0],[2022.67,-1.5],[2022.75,-0.9],[2022.83,-0.5],[2022.92,0.1]];
const cpi12GpShort = [[2011.0,1.1],[2011.5,1.05],[2012.0,1.15],[2012.5,1.2],[2013.0,1.2],[2013.5,1.05],[2014.0,0.95],[2014.5,0.85],[2015.0,0.7],[2015.5,0.6],[2016.0,0.5],[2016.5,0.4],[2017.0,0.35],[2017.5,0.3],[2018.0,0.3],[2018.5,0.25],[2019.0,0.15],[2019.5,0.1],[2020.0,0.05],[2020.5,0.05],[2021.0,0.15],[2021.5,0.35],[2021.75,0.2],[2022.0,0.3],[2022.25,0.2],[2022.5,-0.1],[2022.75,0.1],[2022.92,0.2]];
const cpi12BartShort = [[2011.0,1.2],[2011.5,1.25],[2012.0,1.3],[2012.5,1.3],[2012.58,2.0],[2012.67,1.9],[2012.75,1.6],[2013.0,1.5],[2013.5,1.35],[2014.0,1.2],[2014.5,1.0],[2015.0,0.85],[2015.5,0.7],[2016.0,0.6],[2016.5,0.5],[2017.0,0.45],[2017.5,0.35],[2018.0,0.25],[2018.5,0.25],[2019.0,0.2],[2019.5,0.2],[2020.0,0.1],[2020.5,0.1],[2021.0,0.15],[2021.33,0.1],[2021.5,0.1],[2021.58,0.5],[2021.67,-2.0],[2021.75,0.1],[2021.92,-0.2],[2022.08,0.0],[2022.25,0.2],[2022.42,0.3],[2022.5,-0.5],[2022.58,-0.2],[2022.75,0.0],[2022.92,0.7]];
const cpi12SvtShort = [[2011.0,0.95],[2011.5,0.8],[2011.67,-0.1],[2011.83,0.3],[2012.08,0.6],[2012.5,1.1],[2012.58,0.5],[2012.67,0.3],[2012.83,0.9],[2013.0,1.0],[2013.5,0.6],[2014.0,0.6],[2014.5,0.4],[2015.0,0.2],[2015.08,-0.4],[2015.5,-0.1],[2016.0,-0.1],[2016.5,0.0],[2017.0,-0.1],[2017.5,-0.2],[2018.0,-0.2],[2018.5,-0.1],[2019.0,-0.2],[2019.5,-0.3],[2020.0,-0.2],[2020.5,-0.15],[2021.0,-0.2],[2021.5,-0.3],[2021.67,-2.2],[2021.75,-0.8],[2021.92,-1.0],[2022.08,-0.5],[2022.25,-1.0],[2022.42,-0.3],[2022.5,-2.0],[2022.58,-2.3],[2022.67,-0.5],[2022.75,0.0],[2022.92,0.6]];

// ---- styles ----
Chart.defaults.font.family = '"Liberation Sans", Arial, Helvetica, sans-serif';

const BLUE = '#6495ED', NAVY = '#0000CD', TEAL = '#008B8B';
const ORANGE = '#EE7600', PEACH = '#F7B68A', RED = '#B22222', DARK = '#333333';
const DOT = [0.1, 5];

function line(points, color, width, dash) {
    return {
        data: points.map(p => ({ x: p[0], y: p[1] })),
        borderColor: color,
        borderWidth: width,
        borderDash: dash || [],
        borderCapStyle: dash === DOT ? 'round' : 'butt',
        pointRadius: 0,
        fill: false,
        tension: 0
    };
}

// realization first so it is drawn on top
function seriesSet(real, s) {
    return [
        line(real, DARK, 2.6),
        line(s.tvpL, ORANGE, 2.6),
        line(s.tvpS, BLUE, 2.6),
        line(s.bvarL, ORANGE, 1.3),
        line(s.bvarS, BLUE, 1.3),
        line(s.svtL, RED, 1.4, [6, 4]),
        line(s.svtS, TEAL, 1.4, [6, 4]),
        line(s.bartL, RED, 1.3),
        line(s.bartS, TEAL, 1.3),
        line(s.gpL, PEACH, 1.8, DOT),
        line(s.gpS, NAVY, 1.8, DOT)
    ];
}

const ipRealPoints = ipRealization.map((v, i) => [ipMonthStart + i / 12, v]);

// box round the plot region
const boxPlugin = {
    id: 'box',
    afterDraw(chart) {
        const a = chart.chartArea, ctx = chart.ctx;
        ctx.save();
        ctx.strokeStyle = '#222';
        ctx.lineWidth = 2;
        ctx.strokeRect(a.left, a.top, a.right - a.left, a.bottom - a.top);
        ctx.restore();
    }
};

// small legend inside the plot
const keyPlugin = {
    id: 'key',
    afterDraw(chart, args, o) {
        if (!o || !o.items) return;
        const a = chart.chartArea, ctx = chart.ctx;
        ctx.save();
        ctx.font = o.size + 'px "Liberation Sans", Arial, sans-serif';
        ctx.textBaseline = 'middle';
        o.items.forEach((it, i) => {
            const y = a.top + o.y0 + i * o.dy;
            ctx.beginPath();
            ctx.setLineDash(it.dash ? it.dash.slice() : []);
            ctx.lineCap = it.round ? 'round' : 'butt';
            ctx.strokeStyle = it.color;
            ctx.lineWidth = it.width;
            ctx.moveTo(a.left + o.x0, y);
            ctx.lineTo(a.left + o.x1, y);
            ctx.stroke();
            ctx.setLineDash([]);
            ctx.fillStyle = o.textColor;
            ctx.fillText(it.label, a.left + o.tx, y);
        });
        ctx.restore();
    }
};

const gridStyle = { color: '#c6c6c6', lineWidth: 1.6, tickLength: 9, tickColor: '#111', tickWidth: 1.5 };
const tickFont = { size: 13.5, weight: 'bold' };

function panel(id, title, datasets, cfg) {
    return new Chart(document.getElementById(id), {
        type: 'line',
        data: { datasets: datasets },
        options: {
            responsive: false,
            animation: false,
            events: [],
            layout: { padding: 0 },
            plugins: {
                legend: { display: false },
                tooltip: { enabled: false },
                title: {
                    display: true, text: title, color: '#000',
                    font: { size: 19.5, weight: 'bold' },
                    padding: { top: 6.3, bottom: 3.3 }
                },
                key: cfg.key
            },
            scales: {
                x: {
                    type: 'linear', min: cfg.xMin, max: cfg.xMax,
                    afterBuildTicks: s => { s.ticks = yearTicks.map(v => ({ value: v })); },
                    afterFit: s => { s.height = 35; },
                    grid: gridStyle,
                    border: { display: false },
                    ticks: { callback: v => String(v), color: '#111', font: tickFont, padding: 9, maxRotation: 0, autoSkip: false }
                },
                y: {
                    min: cfg.yMin, max: cfg.yMax,
                    afterBuildTicks: s => { s.ticks = cfg.yTicks.map(v => ({ value: v })); },
                    afterFit: s => { s.width = 62; },
                    grid: gridStyle,
                    border: { display: false },
                    ticks: { callback: v => (v < 0 ? '\u2212' + (-v) : String(v)), color: '#111', font: tickFont, padding: 8, autoSkip: false }
                },
                y2: {
                    position: 'right', display: true,
                    grid: { display: false }, border: { display: false }, ticks: { display: false },
                    afterFit: s => { s.width = 62; }
                }
            }
        },
        plugins: [boxPlugin, keyPlugin]
    });
}

const ipKey = {
    size: 18, textColor: '#000', x0: 16.5, x1: 50.5, tx: 66, y0: 22, dy: 22,
    items: [
        { label: 'Shortfall', color: BLUE, width: 4 },
        { label: 'Longrise', color: ORANGE, width: 4 },
        { label: 'Realization', color: DARK, width: 4 }
    ]
};
const cpiKeyShort = {
    size: 11, textColor: '#333', x0: 6, x1: 30, tx: 40, y0: 220.3, dy: 13.2,
    items: [
        { label: 'BVAR SV', color: BLUE, width: 2, dash: [8, 7] },
        { label: 'TVP SV', color: BLUE, width: 2 },
        { label: 'GP hom', color: NAVY, width: 2.2, dash: [0.1, 8], round: true },
        { label: 'BART hom', color: TEAL, width: 2.5 },
        { label: 'BVAR SV\u2212t', color: TEAL, width: 2, dash: [8, 7] }
    ]
};
const cpiKeyLong = {
    size: 11, textColor: '#333', x0: 6, x1: 30, tx: 40, y0: 218.7, dy: 13.4,
    items: [
        { label: 'BVAR SV', color: ORANGE, width: 2, dash: [8, 7] },
        { label: 'TVP SV', color: ORANGE, width: 2 },
        { label: 'GP hom', color: PEACH, width: 2.2, dash: [0.1, 8], round: true },
        { label: 'BART hom', color: RED, width: 2.5 },
        { label: 'BVAR SV\u2212t', color: RED, width: 2, dash: [8, 7] }
    ]
};

panel('ip4', 'Industrial Production (h=4)', seriesSet(ipRealPoints, {
    tvpL: ip4TvpLong, tvpS: ip4TvpShort, bvarL: ip4BvarLong, bvarS: ip4BvarShort,
    svtL: ip4SvtLong, svtS: ip4SvtShort, bartL: ip4BartLong, bartS: ip4BartShort,
    gpL: ip4GpLong, gpS: ip4GpShort
}), { xMin: 2009.557, xMax: 2023.423, yMin: -61.8, yMax: 63.45, yTicks: ipTicks, key: ipKey });

panel('cpi4', 'Consumer Prices (h=4)', seriesSet(cpiRealization, {
    tvpL: cpi4TvpLong, tvpS: cpi4TvpShort, bvarL: cpi4BvarLong, bvarS: cpi4BvarShort,
    svtL: cpi4SvtLong, svtS: cpi4SvtShort, bartL: cpi4BartLong, bartS: cpi4BartShort,
    gpL: cpi4GpLong, gpS: cpi4GpShort
}), { xMin: 2009.557, xMax: 2023.423, yMin: -5.02, yMax: 7.93, yTicks: cpiTicks, key: cpiKeyShort });

panel('ip12', 'Industrial Production (h=12)', seriesSet(ipRealPoints.filter(p => p[0] >= 2010.999), {
    tvpL: ip12TvpLong, tvpS: ip12TvpShort, bvarL: ip12BvarLong, bvarS: ip12BvarShort,
    svtL: ip12SvtLong, svtS: ip12SvtShort, bartL: ip12BartLong, bartS: ip12BartShort,
    gpL: ip12GpLong, gpS: ip12GpShort
}), { xMin: 2010.525, xMax: 2023.365, yMin: -61.8, yMax: 63.45, yTicks: ipTicks, key: false });

panel('cpi12', 'Consumer Prices (h=12)', seriesSet(cpiRealization.filter(p => p[0] >= 2010.999), {
    tvpL: cpi12TvpLong, tvpS: cpi12TvpShort, bvarL: cpi12BvarLong, bvarS: cpi12BvarShort,
    svtL: cpi12SvtLong, svtS: cpi12SvtShort, bartL: cpi12BartLong, bartS: cpi12BartShort,
    gpL: cpi12GpLong, gpS: cpi12GpShort
}), { xMin: 2010.525, xMax: 2023.365, yMin: -5.02, yMax: 7.93, yTicks: cpiTicks, key: cpiKeyLong });
</script>
</body>
</html>
